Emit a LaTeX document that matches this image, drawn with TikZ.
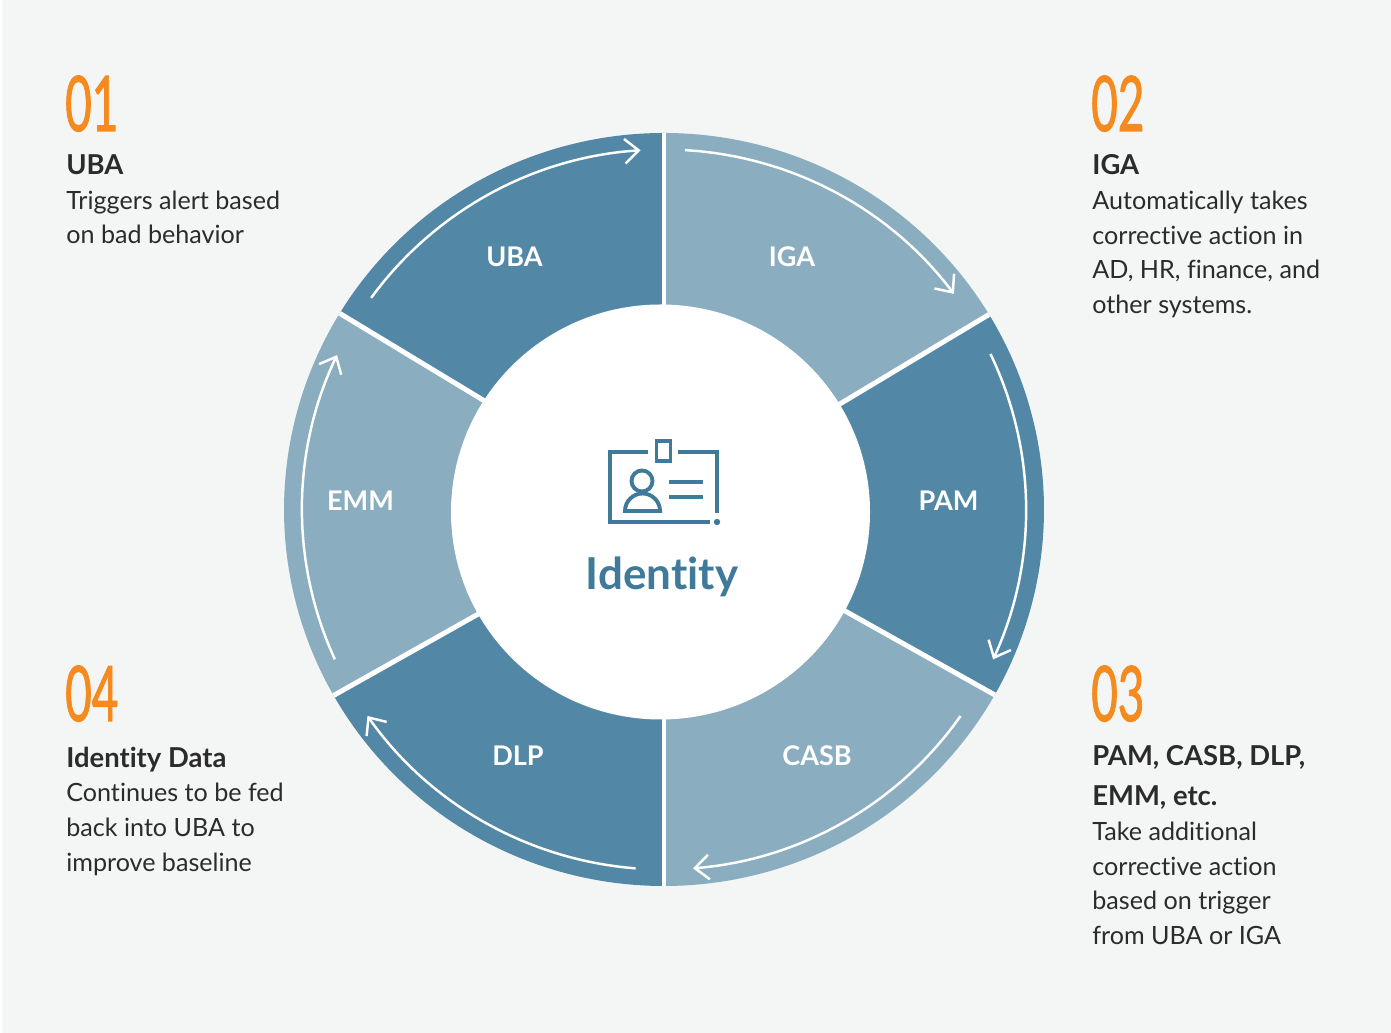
\documentclass[tikz,border=0pt]{standalone}
\usepackage{fontspec}
\usepackage{xcolor}
\setmainfont{Lato}[Ligatures=NoCommon]
\newfontfamily\numfont{Lato}[FakeBold=1.6]
\definecolor{pagegray}{HTML}{F4F6F5}
\definecolor{darkseg}{HTML}{5288A6}
\definecolor{lightseg}{HTML}{8AADC0}
\definecolor{iconblue}{HTML}{3F7A9A}
\definecolor{numorange}{HTML}{F58A1F}
\definecolor{bodyink}{HTML}{2B2B2B}
\usetikzlibrary{arrows.meta}
\newcommand{\headtxt}[1]{{\fontsize{15.6}{19.7}\selectfont\bfseries #1}}
\begin{document}
\begin{tikzpicture}[x=0.02cm,y=0.02cm,
    seglabel/.style={text=white,font=\fontsize{15.4}{18}\selectfont\bfseries},
    numlabel/.style={text=numorange,font=\fontsize{43.5}{50}\selectfont\numfont,xscale=0.6,anchor=base west,inner sep=0pt},
    infotext/.style={text=bodyink,align=left,anchor=north west,inner sep=0pt,font=\fontsize{14.3}{19.7}\selectfont},
    ringarrow/.style={white,line width=1.4pt,-{Straight Barb[length=8pt,width=14pt,line width=1.4pt]}},
    iconline/.style={iconblue,line width=2.2pt}]
    \useasboundingbox (0,0) rectangle (1391,1033);
    \fill[pagegray] (2,0) rectangle (1391,1033);
    \coordinate (ctr) at (664,523.5);
    \foreach \from/\to/\col in {90/31.2/lightseg,31.2/-29.5/darkseg,-29.5/-90/lightseg,270/209.6/darkseg,209.6/148.6/lightseg,148.6/90/darkseg}
        \fill[\col] (ctr) -- ++(\from:380 and 376.5) arc[start angle=\from,end angle=\to,x radius=380,y radius=376.5] -- cycle;
    \foreach \ang in {90,31.2,-29.5,-90,209.6,148.6}
        \draw[white,line width=2.8pt] (ctr) -- ++(\ang:380 and 376.5);
    \foreach \from/\to in {86.7/36.8,25.6/-24.6,-35/-85.4,-94.5/-145,204.6/154.6,144/93.7}
        \draw[ringarrow] (ctr) ++(\from:362 and 360) arc[start angle=\from,end angle=\to,x radius=362,y radius=360];
    \fill[white] (660.5,521) ellipse[x radius=209.5,y radius=207.5];
    \node[seglabel] (uba) at (514.5,776) {UBA};
    \node[seglabel] (iga) at (792,776) {IGA};
    \node[seglabel] (pam) at (948.5,532) {PAM};
    \node[seglabel] (casb) at (817,277) {CASB};
    \node[seglabel] (dlp) at (518,277) {DLP};
    \node[seglabel] (emm) at (360.5,532) {EMM};
    \draw[iconline] (648,581) -- (610,581) -- (610,511) -- (710,511);
    \draw[iconline] (678,581) -- (717,581) -- (717,520);
    \fill[iconblue] (717,511) circle[radius=3.2];
    \draw[iconline] (656.5,572) rectangle (670.5,592);
    \draw[iconline] (642,552) circle[radius=10.5];
    \draw[iconline] (625,522) arc[start angle=180,end angle=0,radius=17.5] -- cycle;
    \draw[iconblue,line width=2.8pt] (669,551) -- (703,551);
    \draw[iconblue,line width=2.8pt] (669,536) -- (703,536);
    \node[text=iconblue,font=\fontsize{25}{28}\selectfont\bfseries] (idname) at (662,456) {Identity};
    \node[numlabel] (num1) at (65,902) {01};
    \node[numlabel] (num2) at (1091,902) {02};
    \node[numlabel] (num3) at (1091,312) {03};
    \node[numlabel] (num4) at (65,312) {04};
    \node[infotext] (text1) at (66,878.5) {\headtxt{UBA}\\Triggers alert based\\on bad behavior};
    \node[infotext] (text2) at (1092,878.5) {\headtxt{IGA}\\Automatically takes\\corrective action in\\AD, HR, finance, and\\other systems.};
    \node[infotext] (text3) at (1092,288) {\headtxt{PAM, CASB, DLP,}\\[3pt]\headtxt{EMM, etc.}\\[0.5pt]Take additional\\corrective action\\based on trigger\\from UBA or IGA};
    \node[infotext] (text4) at (66,286.5) {\headtxt{Identity Data}\\Continues to be fed\\back into UBA to\\improve baseline};
\end{tikzpicture}
\end{document}
